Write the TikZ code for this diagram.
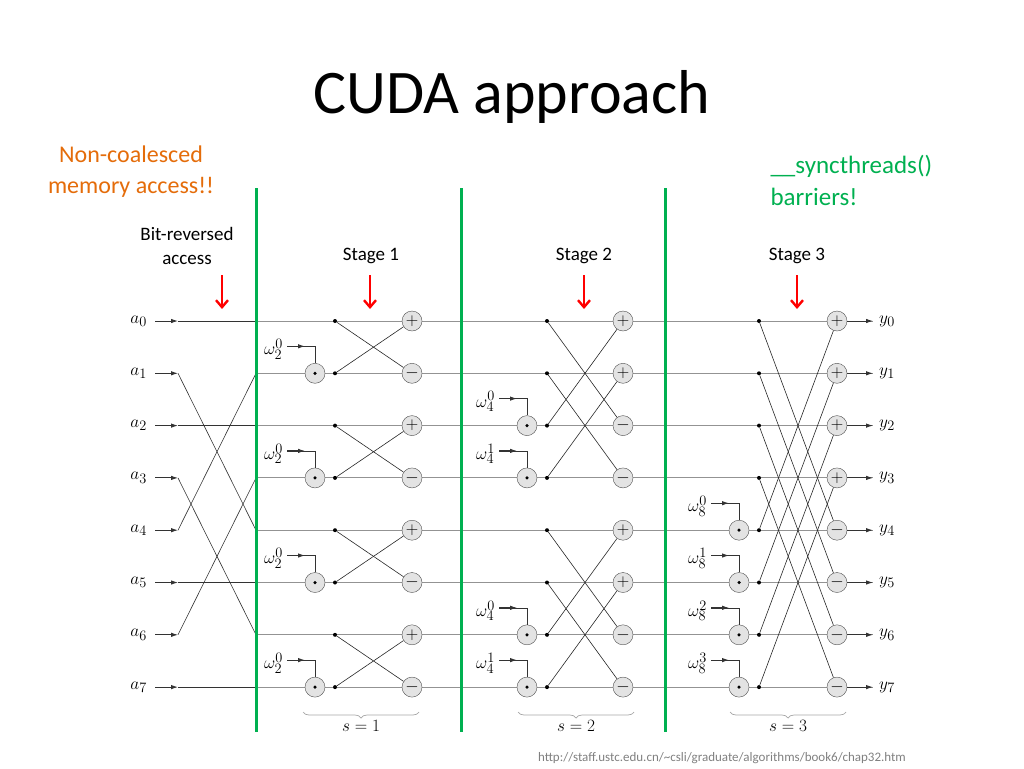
\documentclass[tikz,border=0pt]{standalone}
\usepackage{fontspec}
\setmainfont{Carlito}
\usetikzlibrary{arrows.meta,decorations.pathreplacing}
\definecolor{sgreen}{RGB}{0,176,80}
\definecolor{sorange}{RGB}{228,108,10}
\begin{document}
\begin{tikzpicture}[x=1pt,y=-1pt,
  wire/.style={draw=gray!85,line width=0.9pt},
  ar/.style={wire,draw=gray!40!black,-{Latex[length=7pt,width=4.5pt]}},
  op/.style={circle,draw=gray!60!black,fill=gray!22,minimum size=20pt,inner sep=0pt,font=\LARGE},
  jn/.style={circle,fill=black,inner sep=0pt,minimum size=4pt},
  sep/.style={draw=sgreen,line width=3pt},
  red/.style={draw=red,line width=2.4pt,-{Straight Barb[length=7pt,width=12pt]}},
  lab/.style={font=\fontsize{19}{20}\selectfont,inner sep=1pt},
  stage/.style={font=\fontsize{19}{24}\selectfont}]
\useasboundingbox (0,0) rectangle (1024,768);
% rows
\foreach \i in {0,...,7}{
  \node[lab,anchor=east] (a\i) at (148,{321+52.3*\i}) {$a_{\i}$};
  \coordinate (s\i) at (155,{321+52.3*\i});
  \coordinate (t\i) at (178,{321+52.3*\i});
  \coordinate (b\i) at (256,{321+52.3*\i});
  \coordinate (o\i) at (873,{321+52.3*\i});
  \node[lab,anchor=west] (y\i) at (878,{321+52.3*\i}) {$y_{\i}$};
  \draw[ar] (s\i) -- (t\i);
  \draw[wire] (b\i) -- (o\i);
}
% bit reversal
\foreach \i/\j in {0/0,1/4,2/2,3/6,4/1,5/5,6/3,7/7}{
  \draw[wire,draw=gray!40!black,line width=0.6pt] (t\i) -- (b\j);
}
% stages
\foreach \s/\h/\xm/\xd/\xp/\wn in {1/1/315/335/412/2,2/2/527/547/623/4,3/4/739/759/837/8}{
  \foreach \i in {0,...,7}{
    \pgfmathtruncatemacro{\m}{mod(\i,2*\h)}
    \ifnum\m<\h
      \node[op] (pm\s-\i) at (\xp,{321+52.3*\i}) {$+$};
    \else
      \node[op] (pm\s-\i) at (\xp,{321+52.3*\i}) {$-$};
      \node[op] (w\s-\i) at (\xm,{321+52.3*\i}) {};
      \node[jn,minimum size=3.5pt] at (w\s-\i) {};
      \pgfmathtruncatemacro{\k}{\m-\h}
      \node[lab,anchor=east] (wl\s-\i) at (\xm-31,{321+52.3*\i-24}) {$\omega_{\wn}^{\k}$};
      \coordinate (wc\s-\i) at (\xm,{321+52.3*\i-27});
      \coordinate (wa\s-\i) at (\xm-28,{321+52.3*\i-27});
      \coordinate (wb\s-\i) at (\xm-10,{321+52.3*\i-27});
      \draw[ar] (wa\s-\i) -- (wb\s-\i);
      \draw[wire,draw=gray!40!black,line width=0.6pt] (wa\s-\i) -- (wc\s-\i) -- (w\s-\i);
    \fi
    \node[jn] (d\s-\i) at (\xd,{321+52.3*\i}) {};
  }
  \foreach \i in {0,...,7}{
    \pgfmathtruncatemacro{\m}{mod(\i,2*\h)}
    \ifnum\m<\h
      \pgfmathtruncatemacro{\j}{\i+\h}
      \draw[draw=gray!30!black,line width=0.6pt] (d\s-\i) -- (pm\s-\j);
      \draw[draw=gray!30!black,line width=0.6pt] (d\s-\j) -- (pm\s-\i);
    \fi
  }
}
% output arrows
\foreach \i in {0,...,7}{ \draw[ar] (pm3-\i) -- (o\i); }
% braces
\foreach \s/\xa/\xb in {1/303/419,2/518/634,3/730/846}{
  \coordinate (ba\s) at (\xa,712);
  \coordinate (bb\s) at (\xb,712);
  \draw[gray!70,line width=0.7pt,decorate,decoration={brace,mirror,amplitude=6pt}] (ba\s) -- (bb\s)
    node[midway,below=5pt,font=\fontsize{19}{20}\selectfont,text=black] {$s=\s$};
}
% separators
\foreach \n/\x in {1/256,2/461,3/665}{
  \coordinate (gt\n) at (\x,188); \coordinate (gb\n) at (\x,732);
  \draw[sep] (gt\n) -- (gb\n);
}
% red arrows
\foreach \n/\x in {0/222,1/370,2/584,3/797}{
  \coordinate (rt\n) at (\x,275); \coordinate (rb\n) at (\x,309);
  \draw[red] (rt\n) -- (rb\n);
}
% texts
\node[font=\fontsize{62}{66}\selectfont] (title) at (512,97) {CUDA approach};
\node[text=sorange,font=\fontsize{24}{31}\selectfont,align=center] (nc) at (131,172) {Non-coalesced\\memory access!!};
\node[text=sgreen,font=\fontsize{25}{32}\selectfont,align=left,anchor=west] (sy) at (767,180) {\_\_syncthreads()\\barriers!};
\node[stage,align=center] (br) at (187,246) {Bit-reversed\\access};
\node[stage] (st1) at (371,256) {Stage 1};
\node[stage] (st2) at (584,256) {Stage 2};
\node[stage] (st3) at (797,256) {Stage 3};
\node[font=\fontsize{13}{14}\selectfont,text=gray] (url) at (722,758) {http://staff.ustc.edu.cn/\textasciitilde csli/graduate/algorithms/book6/chap32.htm};
\end{tikzpicture}
\end{document}
